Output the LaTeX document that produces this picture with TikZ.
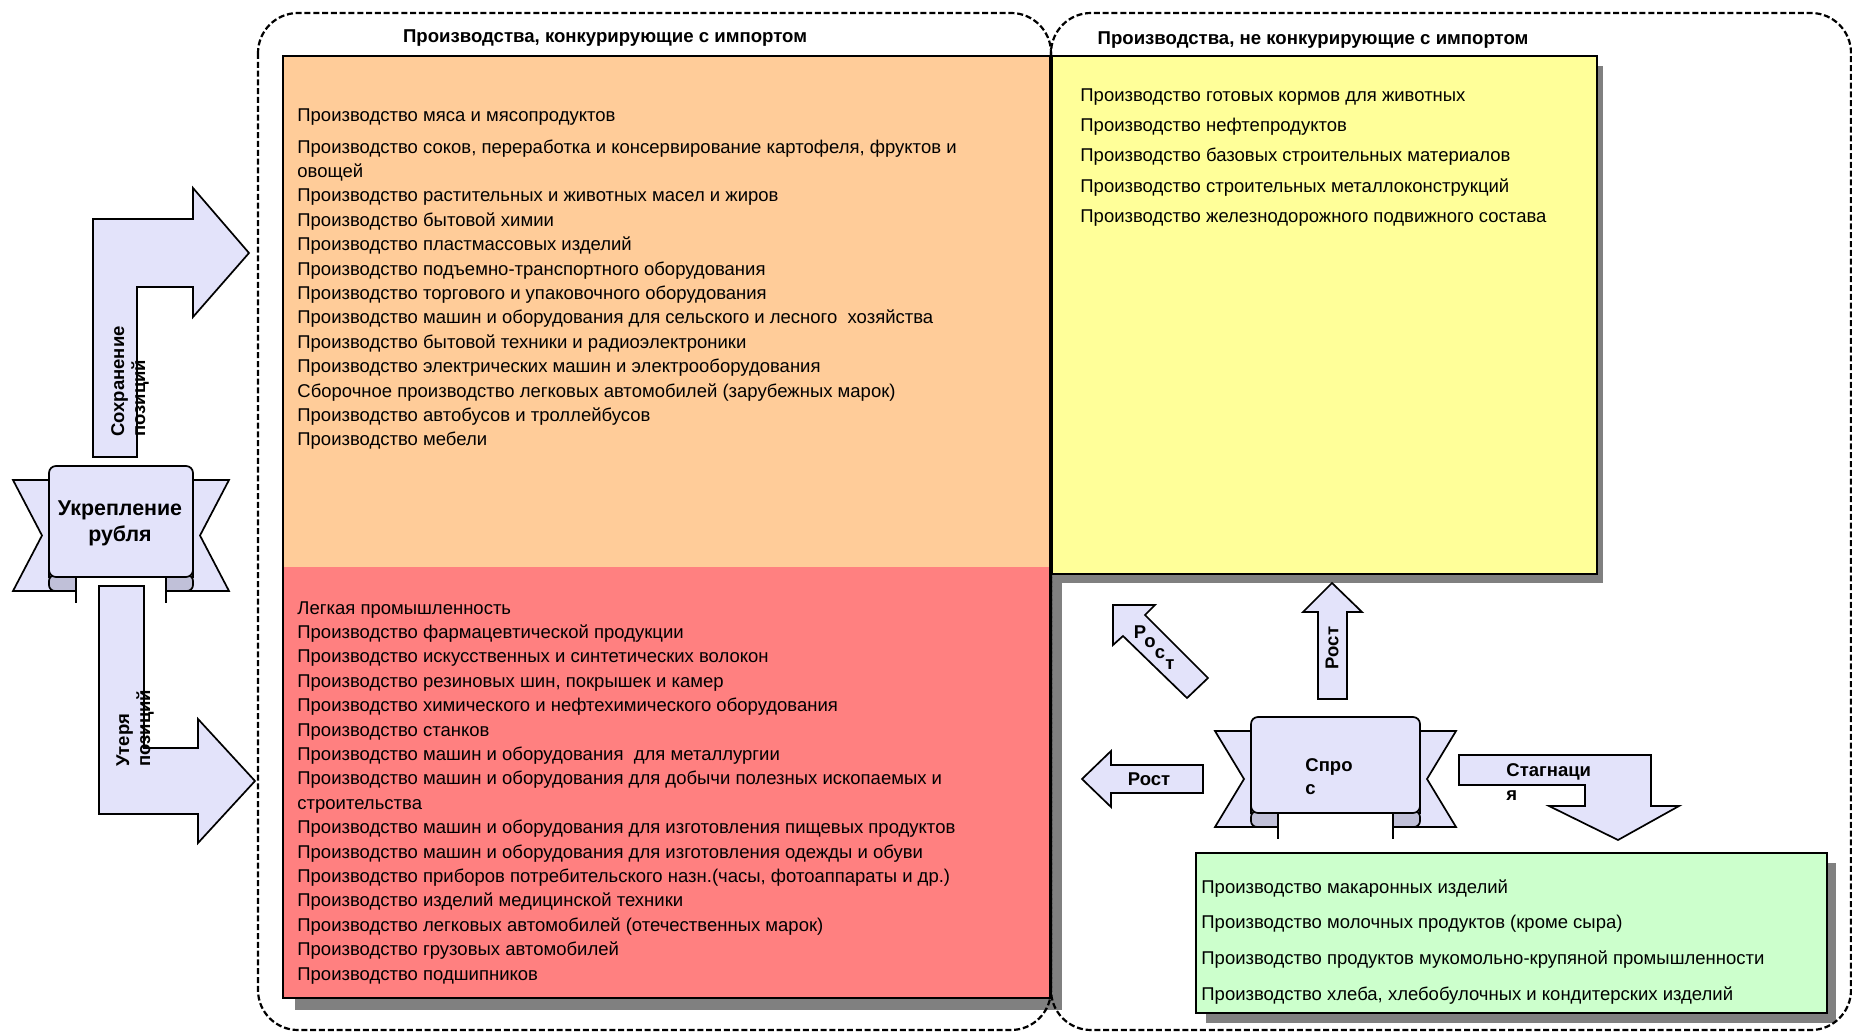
\documentclass[tikz,border=0pt]{standalone}
\usepackage{fontspec}
\setmainfont{Liberation Sans}
\usetikzlibrary{positioning,calc}
\definecolor{peachcol}{RGB}{255,204,153}
\definecolor{rosecol}{RGB}{255,128,128}
\definecolor{lemoncol}{RGB}{255,255,153}
\definecolor{mintcol}{RGB}{204,255,204}
\definecolor{arrcol}{RGB}{227,227,250}
\definecolor{foldcol}{RGB}{192,192,216}
\definecolor{shadowcol}{RGB}{128,128,128}

% ribbon banner: #1 left, #2 top, #3 right, #4 bottom of the face
\newcommand{\ribbon}[4]{%
  \draw[blk] (#1,#2+14) -- (#1-36,#2+14) -- (#1-7,{(#2+#4)/2+14}) -- (#1-36,#4+14)
    -- (#1+27,#4+14) -- (#1+27,#4) -- (#1,#4) -- cycle;
  \draw[blk] (#3,#2+14) -- (#3+36,#2+14) -- (#3+7,{(#2+#4)/2+14}) -- (#3+36,#4+14)
    -- (#3-27,#4+14) -- (#3-27,#4) -- (#3,#4) -- cycle;
  \draw[fold,rounded corners=3pt] (#1+27,#4-2) -- (#1,#4-2) -- (#1,#4+14) -- (#1+27,#4+14);
  \draw[fold,rounded corners=3pt] (#3-27,#4-2) -- (#3,#4-2) -- (#3,#4+14) -- (#3-27,#4+14);
  \draw[line width=0.6pt] (#1+27,#4) -- (#1+27,#4+26);
  \draw[line width=0.6pt] (#3-27,#4) -- (#3-27,#4+26);
  \draw[blk,rounded corners=3.5pt] (#1,#4) -- (#1,#2) -- (#3,#2) -- (#3,#4) -- cycle;
}

\begin{document}
\begin{tikzpicture}[x=0.5pt,y=-0.5pt,
  font=\fontsize{9.25}{12.2}\selectfont,
  blk/.style={fill=arrcol,draw=black,line width=0.85pt},
  fold/.style={fill=foldcol,draw=black,line width=0.85pt},
  zone/.style={draw=black,line width=1.1pt,dash pattern=on 3pt off 1.4pt,rounded corners=20pt},
  panel/.style={draw=black,line width=0.7pt},
  dropsh/.style={fill=shadowcol,draw=none},
  ttl/.style={font=\fontsize{9.3}{11}\selectfont\bfseries,inner sep=0pt},
  lst/.style={anchor=north west,align=left,inner sep=0pt},
  lbl/.style={font=\fontsize{9.25}{10.5}\selectfont\bfseries,inner sep=0pt}]

\useasboundingbox (0,0) rectangle (1852,1032);

% shadows
\fill[dropsh] (295,68) rectangle (1062,1010);
\fill[dropsh] (1060,66) rectangle (1603,583);
\fill[dropsh] (1206,863) rectangle (1836,1023);

% panels
\fill[peachcol] (283,56) rectangle (1050,567);
\fill[rosecol] (283,567) rectangle (1050,998);
\draw[panel] (283,56) rectangle (1050,998);
\draw[panel,fill=lemoncol] (1052,56) rectangle (1597,574);
\draw[panel,fill=mintcol] (1196,853) rectangle (1827,1013);

% dashed zones
\draw[zone] (258,13) rectangle (1051,1030);
\draw[zone] (1051,13) rectangle (1851,1030);

\node[ttl] (tcomp) at (605,38) {Производства, конкурирующие с импортом};
\node[ttl] (tnon) at (1313,40) {Производства, не конкурирующие с импортом};

% lists
\node[lst] (lorange) at (297,108) {Производство мяса и мясопродуктов\\[3.8pt]
  Производство соков, переработка и консервирование картофеля, фруктов и\\
  овощей\\
  Производство растительных и животных масел и жиров\\
  Производство бытовой химии\\
  Производство пластмассовых изделий\\
  Производство подъемно-транспортного оборудования\\
  Производство торгового и упаковочного оборудования\\
  Производство машин и оборудования для сельского и лесного \ хозяйства\\
  Производство бытовой техники и радиоэлектроники\\
  Производство электрических машин и электрооборудования\\
  Сборочное производство легковых автомобилей (зарубежных марок)\\
  Производство автобусов и троллейбусов\\
  Производство мебели};

\node[lst] (lred) at (297,601) {Легкая промышленность\\
  Производство фармацевтической продукции\\
  Производство искусственных и синтетических волокон\\
  Производство резиновых шин, покрышек и камер\\
  Производство химического и нефтехимического оборудования\\
  Производство станков\\
  Производство машин и оборудования \ для металлургии\\
  Производство машин и оборудования для добычи полезных ископаемых и\\
  строительства\\
  Производство машин и оборудования для изготовления пищевых продуктов\\
  Производство машин и оборудования для изготовления одежды и обуви\\
  Производство приборов потребительского назн.(часы, фотоаппараты и др.)\\
  Производство изделий медицинской техники\\
  Производство легковых автомобилей (отечественных марок)\\
  Производство грузовых автомобилей\\
  Производство подшипников};

\node[lst,font=\fontsize{9.25}{15.2}\selectfont] (lyellow) at (1080,88) {Производство готовых кормов для животных\\
  Производство нефтепродуктов\\
  Производство базовых строительных материалов\\
  Производство строительных металлоконструкций\\
  Производство железнодорожного подвижного состава};

\node[lst,font=\fontsize{9.25}{17.9}\selectfont] (lgreen) at (1201,879) {Производство макаронных изделий\\
  Производство молочных продуктов (кроме сыра)\\
  Производство продуктов мукомольно-крупяной промышленности\\
  Производство хлеба, хлебобулочных и кондитерских изделий};

% left side: ruble
\draw[blk] (93,457) -- (93,219) -- (193,219) -- (193,188) -- (249,253) -- (193,317)
  -- (193,287) -- (137,287) -- (137,457) -- cycle;
\node[lbl,rotate=90,anchor=west,align=left] (keep) at (130,437) {Сохранение\\позиций};

\draw[blk] (99,586) -- (144,586) -- (144,748) -- (198,748) -- (198,719) -- (255,781)
  -- (198,843) -- (198,814) -- (99,814) -- cycle;
\node[lbl,rotate=90,anchor=west,align=left] (lose) at (135,767) {Утеря\\позиций};

\ribbon{49}{466}{193}{577}
\node[font=\fontsize{10.7}{13}\selectfont\bfseries,align=center,inner sep=0pt] (rub) at (120,523) {Укрепление\\рубля};

% right side: demand
\ribbon{1251}{717}{1420}{813}
\node[lbl,align=left,anchor=north west,font=\fontsize{9.25}{11.5}\selectfont\bfseries] (dem) at (1305,758) {Спро\\с};

\draw[blk] (1332,583) -- (1362,612) -- (1347,612) -- (1347,699) -- (1318,699) -- (1318,612) -- (1303,612) -- cycle;
\node[lbl,rotate=90] (gup) at (1332,648) {Рост};

\draw[blk] (1113,605) -- (1155,605) -- (1145,615) -- (1208,678) -- (1187,698) -- (1123,636) -- (1113,645) -- cycle;
\foreach \c [count=\k] in {Р,о,с,т}
  \node[lbl] (gd\k) at ({1140+10*(\k-1)},{632+11*(\k-1)}) {\c};

\draw[blk] (1082,779) -- (1111,751) -- (1111,765) -- (1203,765) -- (1203,793) -- (1111,793) -- (1111,807) -- cycle;
\node[lbl] (gleft) at (1149,779) {Рост};

\draw[blk] (1459,755) -- (1651,755) -- (1651,806) -- (1679,806) -- (1618,840) -- (1549,806)
  -- (1585,806) -- (1585,785) -- (1459,785) -- cycle;
\node[lbl,align=left,anchor=north west,font=\fontsize{9.25}{12}\selectfont\bfseries] (stag) at (1506,763) {Стагнаци\\я};
\end{tikzpicture}
\end{document}
